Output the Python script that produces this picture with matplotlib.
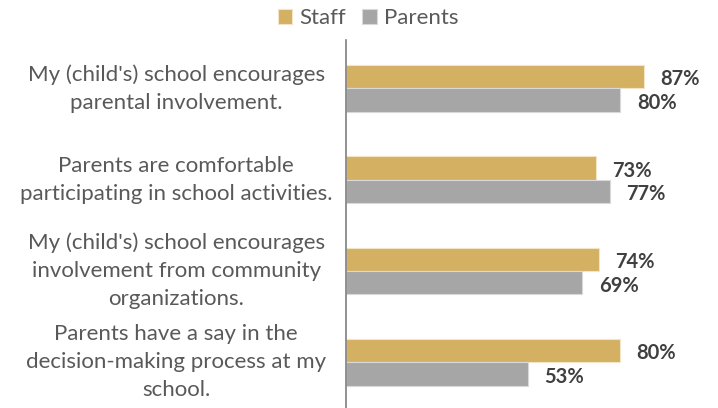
import matplotlib
matplotlib.use('Agg')
import matplotlib.pyplot as plt
import numpy as np

categories = [
    "My (child's) school encourages\nparental involvement.",
    "Parents are comfortable\nparticipating in school activities.",
    "My (child's) school encourages\ninvolvement from community\norganizations.",
    "Parents have a say in the\ndecision-making process at my\nschool.",
]
staff = [87, 73, 74, 80]
parents = [80, 77, 69, 53]
series_names = ['Staff', 'Parents']

plt.rcParams['font.family'] = ['Lato', 'DejaVu Sans']
text_color = '#595959'
gold = '#D4B062'
grey = '#A6A6A6'

fig = plt.figure(figsize=(7.18, 4.08), dpi=100)
ax = fig.add_axes([346 / 718, 0.0, 342.5 / 718, 1 - 40 / 408])

y = np.arange(len(categories))
h = 0.257
b1 = ax.barh(y - h / 2, staff, height=h, color=gold, edgecolor='#F2E4C4',
             linewidth=0.8, label=series_names[0])
b2 = ax.barh(y + h / 2, parents, height=h, color=grey, edgecolor='#D9D9D9',
             linewidth=0.8, label=series_names[1])

for yy, v in zip(y - h / 2, staff):
    ax.text(v + 4.7, yy + 0.03, f'{v}%', va='center', ha='left',
            fontsize=14.5, fontweight='bold', color='#404040')
for yy, v in zip(y + h / 2, parents):
    ax.text(v + 4.9, yy + 0.03, f'{v}%', va='center', ha='left',
            fontsize=14.5, fontweight='bold', color='#404040')

ax.set_xlim(0, 100)
ax.set_ylim(3.5, -0.53)
ax.set_xticks([])
ax.set_yticks([])
for s in ['top', 'right', 'bottom']:
    ax.spines[s].set_visible(False)
ax.spines['left'].set_color('#7F7F7F')
ax.spines['left'].set_linewidth(1.2)

# category labels, centred to the left of the axis
for yy, lab in zip(y, categories):
    ax.text(-0.496, yy, lab, transform=ax.get_yaxis_transform(),
            ha='center', va='center', fontsize=16, color=text_color,
            linespacing=1.5)

fig.legend(handles=[b1, b2], labels=series_names, loc='center',
           bbox_to_anchor=(368 / 718, 1 - 18 / 408), ncol=2, frameon=False,
           fontsize=16, handlelength=0.65, handleheight=0.65,
           handletextpad=0.3, columnspacing=0.75, labelcolor=text_color)

fig.savefig('out.png', dpi=100)
